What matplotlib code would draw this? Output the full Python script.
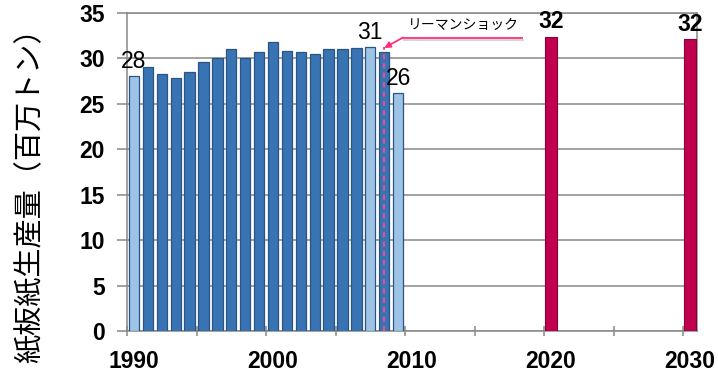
import numpy as np
import matplotlib.pyplot as plt
import matplotlib.patheffects as pe

plt.rcParams['font.family'] = ['Liberation Sans', 'Noto Sans CJK JP', 'DejaVu Sans']

# 実績（1990〜2009年）
years = np.arange(1990, 2010)
production = [28.1, 29.1, 28.3, 27.8, 28.5, 29.6, 30.0, 31.0, 30.0, 30.7,
              31.8, 30.8, 30.7, 30.5, 31.0, 31.0, 31.1, 31.3, 30.7, 26.2]
highlight_years = [1990, 2007, 2009]   # 淡色で表示し値を付ける年

# 見通し
forecast_years = [2020, 2030]
forecast = [32.4, 32.1]

shock_year = 2008
shock_label = 'リーマンショック'
ylabel = '紙板紙生産量（百万トン）'
xtick_years = [1990, 2000, 2010, 2020, 2030]

dark = '#3873B3'
light = '#9DC3E6'
red = '#C0004E'
pink = '#FF2E7E'
grid_c = '#888888'

fig = plt.figure(figsize=(7.18, 3.79), dpi=100)
ax = fig.add_axes([127 / 718, 1 - 331 / 379, 570 / 718, 318 / 379])

colors = [light if y in highlight_years else dark for y in years]
ax.bar(years, production, width=0.74, color=colors, edgecolor='#2A5582',
       linewidth=0.9, zorder=3)
ax.bar(forecast_years, forecast, width=0.9, color=red, edgecolor='#8A0036',
       linewidth=0.8, zorder=3)

# 値ラベル
for y, v in zip(years, production):
    if y in highlight_years:
        ax.text(y, v + 0.3, f'{v:.0f}', ha='center', va='bottom',
                fontsize=16.5, zorder=5)
for y, v in zip(forecast_years, forecast):
    ax.text(y, v + 0.35, f'{v:.0f}', ha='center', va='bottom',
            fontsize=16.5, fontweight='bold', zorder=5)

# リーマンショックの目印
shock_val = production[list(years).index(shock_year)]
ax.plot([shock_year, shock_year], [0, shock_val + 0.6], color='#EE4C90',
        linestyle=(0, (2.5, 2)), linewidth=1.5, zorder=4)
ax.plot([2009.35, 2017.9], [32.3, 32.3], color=pink, linewidth=1.3,
        zorder=6, clip_on=False,
        path_effects=[pe.SimpleLineShadow(offset=(1, -2), shadow_color='gray',
                                          alpha=0.35), pe.Normal()])
ax.annotate('', xy=(shock_year, shock_val + 0.45), xytext=(2009.35, 32.3),
            arrowprops=dict(arrowstyle='-|>', color=pink, lw=1.3,
                            mutation_scale=9, shrinkA=0, shrinkB=0),
            zorder=6)
ax.text(2013.7, 33.7, shock_label, ha='center', va='center', fontsize=10,
        family=['Noto Sans CJK JP'], zorder=6)

ax.set_xlim(1989.5, 2030.5)
ax.set_ylim(0, 35)
ax.set_yticks(np.arange(0, 36, 5))
ax.yaxis.grid(True, color=grid_c, linewidth=1.1, zorder=0)
ax.set_axisbelow(True)

ax.set_xticks(xtick_years)
ax.set_xticklabels([str(y) for y in xtick_years])
ax.set_xticks(np.arange(1989.5, 2030, 5), minor=True)
ax.tick_params(axis='x', which='major', length=0, pad=14)
ax.tick_params(axis='x', which='minor', length=7, direction='inout',
               color=grid_c, width=1.1)
ax.tick_params(axis='y', length=7, color=grid_c, width=1.1, pad=9)
for lab in ax.get_xticklabels() + ax.get_yticklabels():
    lab.set_fontsize(16.5)
    lab.set_fontweight('bold')

for s in ax.spines.values():
    s.set_color(grid_c)
    s.set_linewidth(1.1)

fig.text(30 / 718, 1 - 188 / 379, ylabel, rotation=90, ha='center',
         va='center', fontsize=21, family=['Noto Sans CJK JP'])

fig.savefig('out.png', dpi=100)
